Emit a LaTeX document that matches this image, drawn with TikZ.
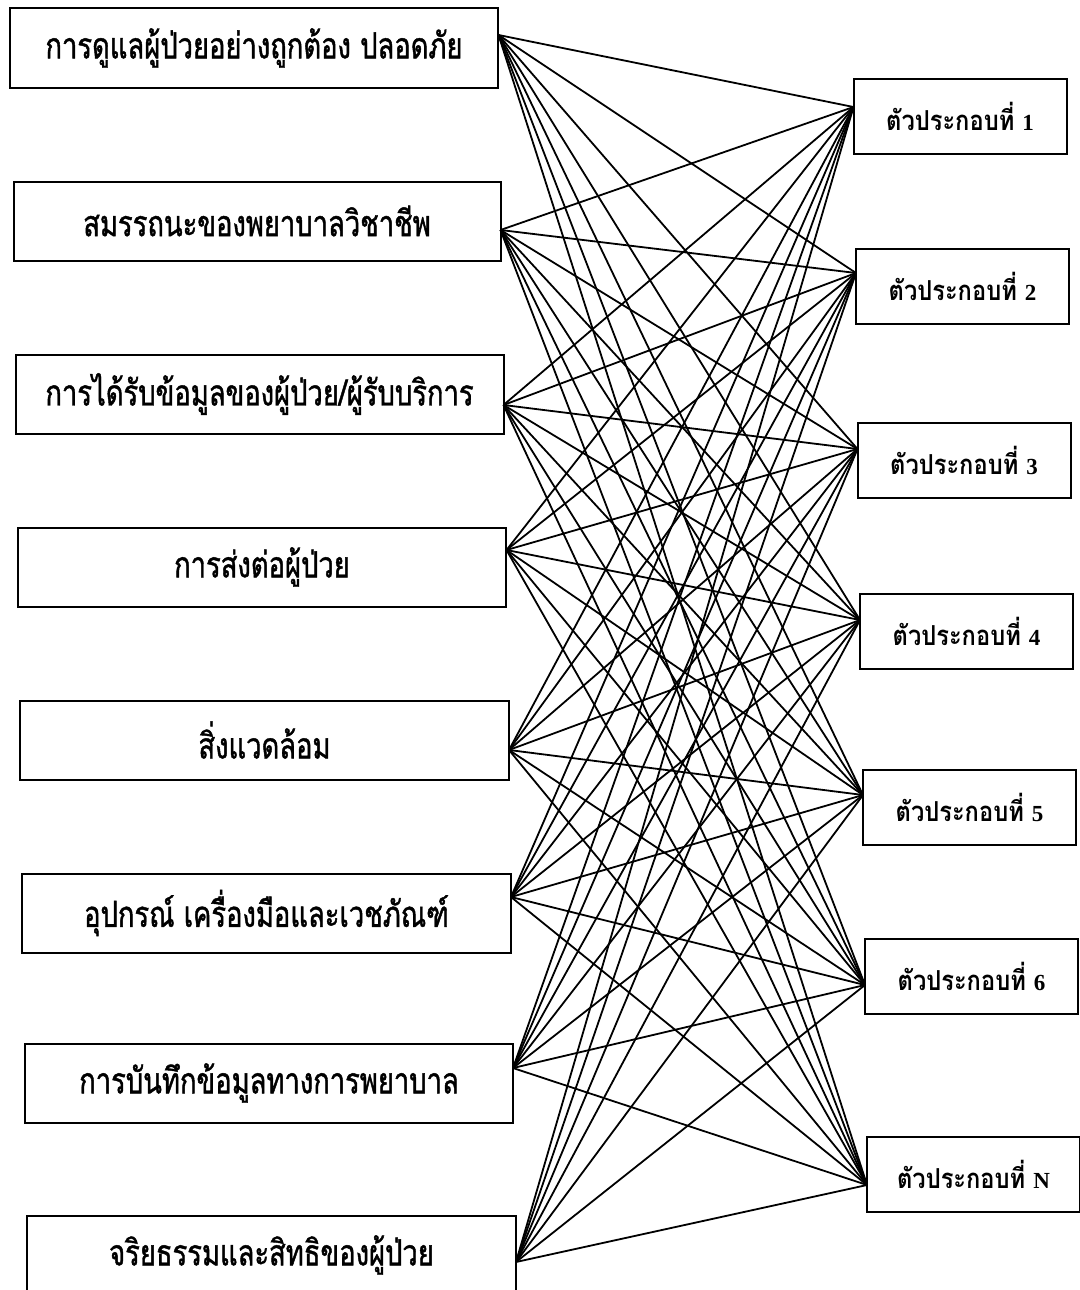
\documentclass[tikz,border=0pt]{standalone}
\usepackage{fontspec}
\newfontfamily\thaifont[Script=Thai,FakeStretch=0.86]{Loma}
\newfontfamily\thainarrow[Script=Thai,FakeStretch=0.76,FakeBold=1.2]{Loma}
\newfontfamily\numfont{Liberation Serif}
\begin{document}
\begin{tikzpicture}[x=1pt,y=-1pt,
  lbox/.style={draw, line width=2pt, minimum height=79pt, inner sep=0pt,
    font=\thainarrow\fontsize{36}{40}\selectfont},
  rbox/.style={draw, line width=2pt, minimum height=75pt, minimum width=213pt, inner sep=0pt,
    font=\thaifont\bfseries\fontsize{27.5}{30}\selectfont},
  num/.style={},
  link/.style={line width=1.8pt}]
\useasboundingbox (0,0) rectangle (1079,1290);
% left boxes
\node[lbox, minimum width=488pt] (b1) at (254,48) {การดูแลผู้ป่วยอย่างถูกต้อง ปลอดภัย};
\node[lbox, minimum width=487pt] (b2) at (257,221) {สมรรถนะของพยาบาลวิชาชีพ};
\node[lbox, minimum width=488pt] (b3) at (259.5,394) {การได้รับข้อมูลของผู้ป่วย/ผู้รับบริการ};
\node[lbox, minimum width=488pt] (b4) at (262,567) {การส่งต่อผู้ป่วย};
\node[lbox, minimum width=489pt] (b5) at (264.5,740) {สิ่งแวดล้อม};
\node[lbox, minimum width=489pt] (b6) at (266.5,913) {อุปกรณ์ เครื่องมือและเวชภัณฑ์};
\node[lbox, minimum width=488pt] (b7) at (269,1083) {การบันทึกข้อมูลทางการพยาบาล};
\node[lbox, minimum width=489pt] (b8) at (271.5,1255) {จริยธรรมและสิทธิของผู้ป่วย};
% right boxes
\newcommand\rnum[1]{{\numfont\bfseries\fontsize{23}{26}\selectfont #1}}
\node[rbox] (c1) at (960,116) {ตัวประกอบที่ \rnum{1}};
\node[rbox] (c2) at (962.5,286.5) {ตัวประกอบที่ \rnum{2}};
\node[rbox] (c3) at (964,460.5) {ตัวประกอบที่ \rnum{3}};
\node[rbox] (c4) at (966.5,631.5) {ตัวประกอบที่ \rnum{4}};
\node[rbox] (c5) at (969.5,807) {ตัวประกอบที่ \rnum{5}};
\node[rbox] (c6) at (971.5,976) {ตัวประกอบที่ \rnum{6}};
\node[rbox] (c7) at (973.5,1174) {ตัวประกอบที่ \rnum{N}};
% convergence points
\coordinate (l1) at (498.5,35);
\coordinate (l2) at (500.5,230);
\coordinate (l3) at (503.5,405);
\coordinate (l4) at (506.5,550);
\coordinate (l5) at (509,750);
\coordinate (l6) at (511,897);
\coordinate (l7) at (513,1068);
\coordinate (l8) at (516,1262);
\coordinate (r1) at (853.5,107);
\coordinate (r2) at (856,273);
\coordinate (r3) at (857.5,449);
\coordinate (r4) at (860,620);
\coordinate (r5) at (863,795);
\coordinate (r6) at (865,985);
\coordinate (r7) at (867,1185);
\foreach \i in {1,...,8}
  \foreach \j in {1,...,7}
    \draw[link] (l\i) -- (r\j);
\end{tikzpicture}
\end{document}
